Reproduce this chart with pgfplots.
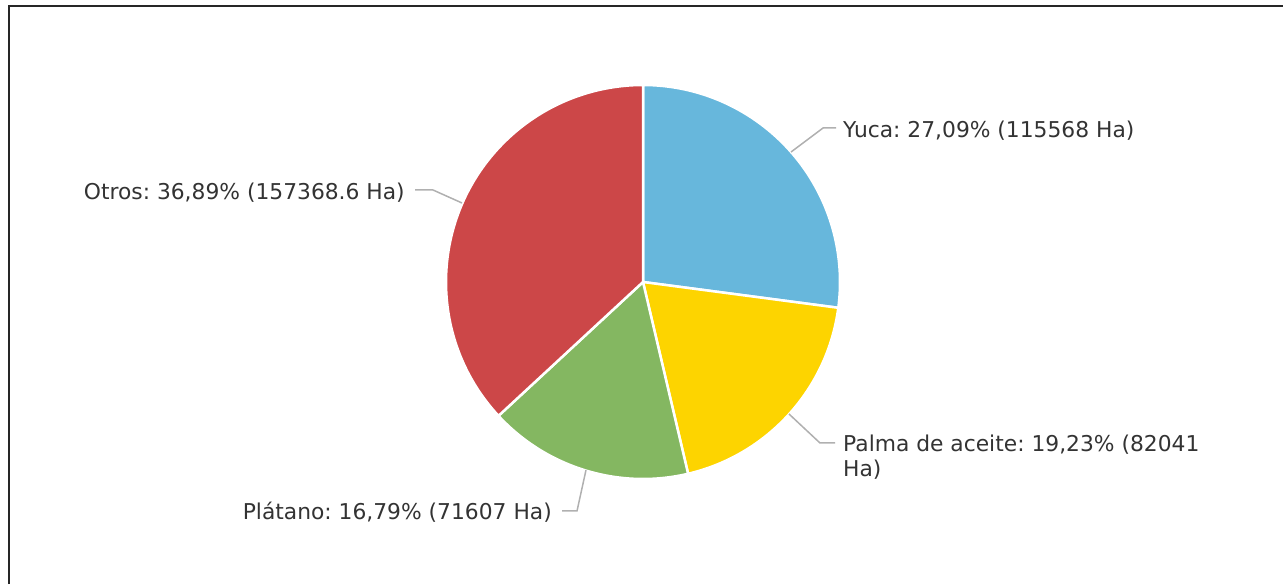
\documentclass[border=0pt]{standalone}
\usepackage{pgfplots}
\pgfplotsset{compat=1.18}
\usepackage{fontspec}
\setmainfont{DejaVu Sans}
\frenchspacing
\definecolor{cyuca}{HTML}{67B7DC}
\definecolor{cpalma}{HTML}{FDD400}
\definecolor{cplat}{HTML}{84B761}
\definecolor{cotros}{HTML}{CC4748}
\definecolor{ctext}{HTML}{333333}
\definecolor{cline}{HTML}{B0B0B0}
% values (Ha)
\def\vYuca{115568}
\def\vPalma{82041}
\def\vPlat{71607}
\def\vOtros{157368.6}
\edef\tot{\fpeval{\vYuca+\vPalma+\vPlat+\vOtros}}
\edef\aA{90}
\edef\aB{\fpeval{90-360*\vYuca/\tot}}
\edef\aC{\fpeval{\aB-360*\vPalma/\tot}}
\edef\aD{\fpeval{\aC-360*\vPlat/\tot}}
\edef\aE{\fpeval{\aD-360*\vOtros/\tot}}
\def\R{197}
\begin{document}
\begin{tikzpicture}
\begin{axis}[width=1283pt,height=584pt,scale only axis,
  xmin=0,xmax=1283,ymin=0,ymax=584,axis lines=none,clip=false]
% frame
\draw[black!85,line width=2pt] (axis cs:9,0) -- (axis cs:9,577.5) -- (axis cs:1283,577.5);
% wedges
\filldraw[fill=cyuca,draw=white,line width=2.5pt,line join=round] (axis cs:643,302) -- ++(\aA:\R pt) arc[start angle=\aA,end angle=\aB,radius=\R pt] -- cycle;
\filldraw[fill=cpalma,draw=white,line width=2.5pt,line join=round] (axis cs:643,302) -- ++(\aB:\R pt) arc[start angle=\aB,end angle=\aC,radius=\R pt] -- cycle;
\filldraw[fill=cplat,draw=white,line width=2.5pt,line join=round] (axis cs:643,302) -- ++(\aC:\R pt) arc[start angle=\aC,end angle=\aD,radius=\R pt] -- cycle;
\filldraw[fill=cotros,draw=white,line width=2.5pt,line join=round] (axis cs:643,302) -- ++(\aD:\R pt) arc[start angle=\aD,end angle=\aE,radius=\R pt] -- cycle;
% leader lines
\draw[cline,line width=1.5pt] (axis cs:791,432) -- (axis cs:823,456) -- (axis cs:836,456);
\draw[cline,line width=1.5pt] (axis cs:789,170) -- (axis cs:820,141) -- (axis cs:835,141);
\draw[cline,line width=1.5pt] (axis cs:586,114) -- (axis cs:577,73) -- (axis cs:562,73);
\draw[cline,line width=1.5pt] (axis cs:462,381) -- (axis cs:433,394) -- (axis cs:415,394);
% labels
\node[anchor=west,inner sep=0pt,text=ctext,font=\fontsize{21.8}{26}\selectfont] at (axis cs:843,453) {Yuca: 27,09\% (115568 Ha)};
\node[anchor=west,inner sep=0pt,text=ctext,font=\fontsize{21.8}{26}\selectfont] at (axis cs:843,139) {Palma de aceite: 19,23\% (82041};
\node[anchor=west,inner sep=0pt,text=ctext,font=\fontsize{21.8}{26}\selectfont] at (axis cs:843,114) {Ha)};
\node[anchor=east,inner sep=0pt,text=ctext,font=\fontsize{21.8}{26}\selectfont] at (axis cs:552,72) {Plátano: 16,79\% (71607 Ha)};
\node[anchor=east,inner sep=0pt,text=ctext,font=\fontsize{21.8}{26}\selectfont] at (axis cs:405,391) {Otros: 36,89\% (157368.6 Ha)};
\end{axis}
\pgfresetboundingbox
\path (0,0) rectangle (1283pt,584pt);
\end{tikzpicture}
\end{document}
